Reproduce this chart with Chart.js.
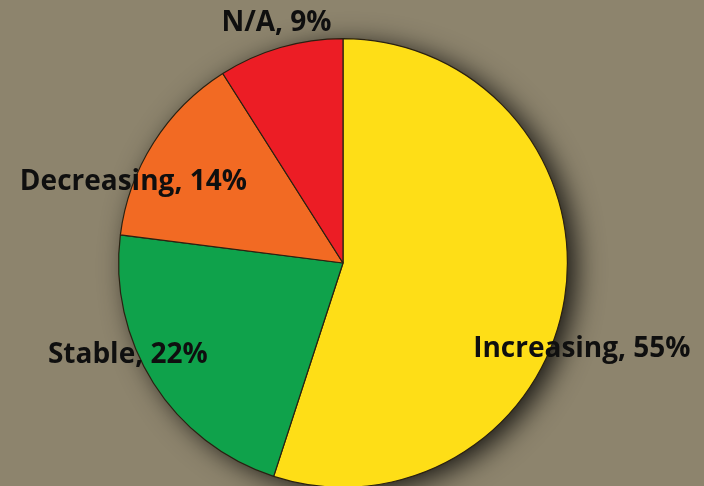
<!DOCTYPE html>
<html>
<head>
<meta charset="utf-8">
<script src="https://cdn.jsdelivr.net/npm/chart.js@4/dist/chart.umd.min.js"></script>
<style>
html,body{margin:0;padding:0;background:#8d846d;overflow:hidden;}
#wrap{position:relative;width:704px;height:490px;}
</style>
</head>
<body>
<div id="wrap"><canvas id="c"></canvas></div>
<script>
const categories = ["Increasing", "Stable", "Decreasing", "N/A"];
const values = [55, 22, 14, 9];
const colors = ["#fede17", "#0fa24b", "#f26a23", "#ec1d25"];
// label anchor (left edge, vertical middle) as fraction of radius, offset from pie centre
const labelOffsets = [[0.58, 0.385], [-1.315, 0.409], [-1.44, -0.36], [-0.542, -1.071]];

const shadowPlugin = {
  id: 'pieShadow',
  beforeDatasetsDraw(chart) {
    const arc = chart.getDatasetMeta(0).data[0];
    if (!arc) return;
    const ctx = chart.ctx;
    ctx.save();
    ctx.shadowColor = 'rgba(0,0,0,0.85)';
    ctx.shadowBlur = 28;
    ctx.shadowOffsetX = 9;
    ctx.shadowOffsetY = 5;
    ctx.fillStyle = '#3a3020';
    ctx.beginPath();
    ctx.arc(arc.x, arc.y, arc.outerRadius - 1, 0, Math.PI * 2);
    ctx.fill();
    ctx.restore();
  },
  afterDatasetsDraw(chart) {
    const arc = chart.getDatasetMeta(0).data[0];
    if (!arc) return;
    const ctx = chart.ctx;
    const R = arc.outerRadius;
    ctx.save();
    ctx.font = 'bold 28px "Open Sans", "Noto Sans", sans-serif';
    ctx.fillStyle = '#0f0f0f';
    ctx.textAlign = 'left';
    ctx.textBaseline = 'middle';
    categories.forEach((c, i) => {
      const o = labelOffsets[i];
      ctx.fillText(c + ', ' + values[i] + '%', arc.x + o[0] * R, arc.y + o[1] * R);
    });
    ctx.restore();
  }
};

new Chart(document.getElementById('c'), {
  type: 'pie',
  data: {
    labels: categories,
    datasets: [{
      data: values,
      backgroundColor: colors,
      borderColor: '#2a2112',
      borderWidth: 1.2
    }]
  },
  options: {
    responsive: true,
    maintainAspectRatio: false,
    animation: false,
    layout: { padding: { left: 118, top: 38, right: 136, bottom: 2 } },
    plugins: { legend: { display: false }, tooltip: { enabled: false } }
  },
  plugins: [shadowPlugin]
});
</script>
</body>
</html>
